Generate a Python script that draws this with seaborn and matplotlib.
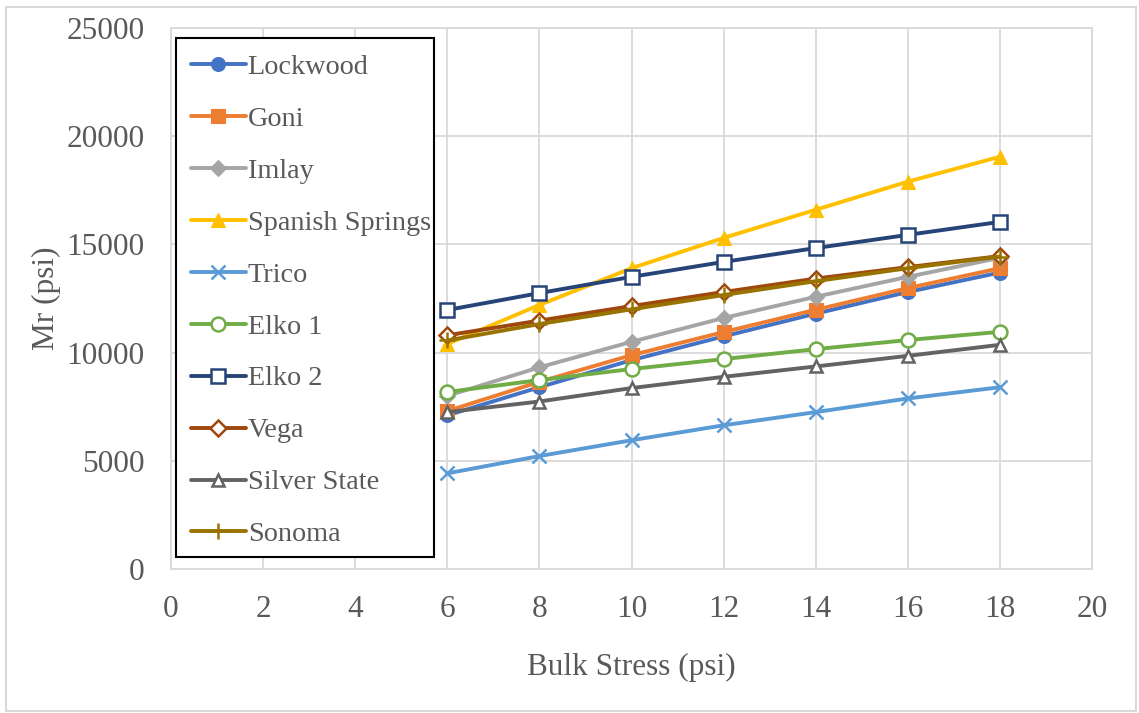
import matplotlib
matplotlib.use("Agg")
import matplotlib.pyplot as plt
from matplotlib.patches import Rectangle
import seaborn as sns
import pandas as pd

# Bulk stress levels (psi)
bulk_stress = [6, 8, 10, 12, 14, 16, 18]

# Resilient modulus Mr (psi) for each material
lockwood = [7100, 8400, 9650, 10750, 11800, 12800, 13700]
goni = [7300, 8650, 9880, 10950, 11980, 12980, 13900]
imlay = [8000, 9320, 10500, 11600, 12580, 13500, 14380]
spanish_springs = [10400, 12200, 13900, 15300, 16600, 17900, 19050]
trico = [4420, 5220, 5950, 6640, 7250, 7880, 8400]
elko_1 = [8180, 8730, 9240, 9700, 10160, 10580, 10960]
elko_2 = [11970, 12750, 13500, 14190, 14830, 15440, 16040]
vega = [10800, 11480, 12150, 12800, 13420, 13950, 14460]
silver_state = [7250, 7740, 8360, 8880, 9360, 9850, 10360]
sonoma = [10560, 11320, 12000, 12660, 13300, 13900, 14440]

series_names = ["Lockwood", "Goni", "Imlay", "Spanish Springs", "Trico",
                "Elko 1", "Elko 2", "Vega", "Silver State", "Sonoma"]
series_values = [lockwood, goni, imlay, spanish_springs, trico,
                 elko_1, elko_2, vega, silver_state, sonoma]

colors = ["#4472C4", "#ED7D31", "#A5A5A5", "#FFC000", "#5B9BD5",
          "#70AD47", "#264478", "#9E480E", "#636363", "#997300"]
markers = ["o", "s", "D", "^", "x", "o", "s", "D", "^", "+"]
filled = [True, True, True, True, True, False, False, False, False, True]
msizes = [10, 10, 8, 10, 10, 10, 10, 8, 9, 12]

rows = []
for name, vals in zip(series_names, series_values):
    for x, y in zip(bulk_stress, vals):
        rows.append({"Bulk Stress (psi)": x, "Mr (psi)": y, "Material": name})
df = pd.DataFrame(rows)

sns.set_style("white")
plt.rcParams["font.family"] = ["Liberation Serif", "DejaVu Serif"]

W, H = 1139, 713
fig = plt.figure(figsize=(W / 100, H / 100), dpi=100)
ax = fig.add_axes([171 / W, 1 - 569 / H, (1092 - 171) / W, (569 - 28) / H])

text_color = "#595959"
grid_color = "#D9D9D9"

for name, c, m, f, ms in zip(series_names, colors, markers, filled, msizes):
    sub = df[df["Material"] == name]
    sns.lineplot(data=sub, x="Bulk Stress (psi)", y="Mr (psi)", ax=ax,
                 color=c, linewidth=2.8, marker=m, markersize=ms,
                 markerfacecolor=(c if f else "white"),
                 markeredgecolor=c,
                 markeredgewidth=(1.8 if (not f or m in ("x", "+")) else 0.8),
                 label=name)

ax.set_xlim(0, 20)
ax.set_ylim(0, 25000)
ax.set_xticks(range(0, 21, 2))
ax.set_yticks(range(0, 25001, 5000))
ax.grid(True, color=grid_color, linewidth=1.3)
ax.set_axisbelow(True)
for sp in ax.spines.values():
    sp.set_color(grid_color)
    sp.set_linewidth(1.3)
ax.tick_params(axis="both", length=0, labelsize=22.5, labelcolor=text_color)
ax.tick_params(axis="x", pad=19)
ax.tick_params(axis="y", pad=19)
ax.set_xlabel("Bulk Stress (psi)", fontsize=22.5, color=text_color)
ax.set_ylabel("Mr (psi)", fontsize=22.5, color=text_color)
ax.xaxis.set_label_coords(0.5, -(667 - 569) / 541, transform=ax.transAxes)
ax.xaxis.label.set_verticalalignment("center")
ax.yaxis.set_label_coords(-(171 - 46) / 921, 0.5, transform=ax.transAxes)
ax.yaxis.label.set_verticalalignment("center")

# Legend entries (frame drawn separately as a plain box)
leg = ax.legend(loc="upper left",
                bbox_to_anchor=(191 / W, 1 - 54 / H), bbox_transform=fig.transFigure,
                fontsize=20.3, handlelength=1.95, handletextpad=0.06,
                labelspacing=0.93, borderpad=0.0, borderaxespad=0.0,
                frameon=False)
for t in leg.get_texts():
    t.set_color(text_color)
ax.add_patch(Rectangle((176 / W, 1 - 557 / H), (434 - 176) / W, (557 - 38) / H,
                       transform=fig.transFigure, fill=True, facecolor="white",
                       edgecolor="black", linewidth=1.5, zorder=4.9,
                       clip_on=False))
leg.set_zorder(5)

fig.patches.append(Rectangle((6 / W, 2 / H), 1130 / W, 704 / H,
                             transform=fig.transFigure, fill=False,
                             edgecolor=grid_color, linewidth=1.5))

fig.savefig("out.png", dpi=100, facecolor="white")
